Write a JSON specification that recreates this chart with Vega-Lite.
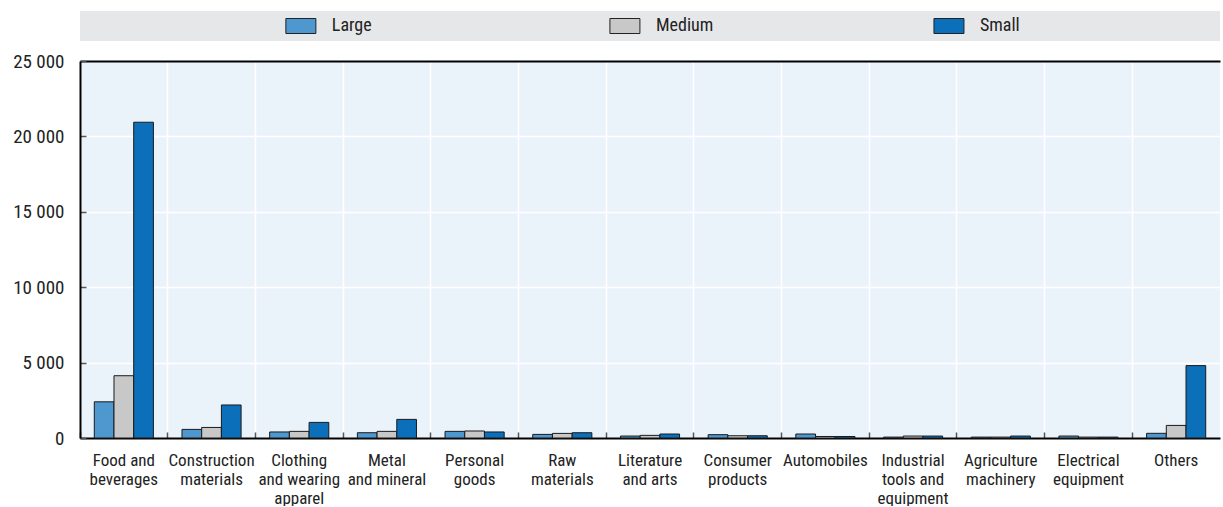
{
  "$schema": "https://vega.github.io/schema/vega-lite/v6.json",
  "padding": {"left": 12, "top": 11, "right": 2, "bottom": 0},
  "background": "white",
  "bounds": "flush",
  "spacing": 20,
  "config": {
    "font": "Liberation Sans Narrow, Roboto Condensed, Arial Narrow, sans-serif",
    "text": {"font": "Liberation Sans Narrow, Roboto Condensed, Arial Narrow, sans-serif"}
  },
  "datasets": {
    "bars": [
      {"Sector": "Food and beverages", "Size": "Large", "Value": 2400},
      {"Sector": "Food and beverages", "Size": "Medium", "Value": 4130},
      {"Sector": "Food and beverages", "Size": "Small", "Value": 20940},
      {"Sector": "Construction materials", "Size": "Large", "Value": 570},
      {"Sector": "Construction materials", "Size": "Medium", "Value": 700},
      {"Sector": "Construction materials", "Size": "Small", "Value": 2190},
      {"Sector": "Clothing and wearing apparel", "Size": "Large", "Value": 400},
      {"Sector": "Clothing and wearing apparel", "Size": "Medium", "Value": 440},
      {"Sector": "Clothing and wearing apparel", "Size": "Small", "Value": 1035},
      {"Sector": "Metal and mineral", "Size": "Large", "Value": 350},
      {"Sector": "Metal and mineral", "Size": "Medium", "Value": 440},
      {"Sector": "Metal and mineral", "Size": "Small", "Value": 1235},
      {"Sector": "Personal goods", "Size": "Large", "Value": 440},
      {"Sector": "Personal goods", "Size": "Medium", "Value": 465},
      {"Sector": "Personal goods", "Size": "Small", "Value": 400},
      {"Sector": "Raw materials", "Size": "Large", "Value": 240},
      {"Sector": "Raw materials", "Size": "Medium", "Value": 305},
      {"Sector": "Raw materials", "Size": "Small", "Value": 350},
      {"Sector": "Literature and arts", "Size": "Large", "Value": 130},
      {"Sector": "Literature and arts", "Size": "Medium", "Value": 175},
      {"Sector": "Literature and arts", "Size": "Small", "Value": 265},
      {"Sector": "Consumer products", "Size": "Large", "Value": 220},
      {"Sector": "Consumer products", "Size": "Medium", "Value": 150},
      {"Sector": "Consumer products", "Size": "Small", "Value": 150},
      {"Sector": "Automobiles", "Size": "Large", "Value": 265},
      {"Sector": "Automobiles", "Size": "Medium", "Value": 100},
      {"Sector": "Automobiles", "Size": "Small", "Value": 100},
      {"Sector": "Industrial tools and equipment", "Size": "Large", "Value": 60},
      {"Sector": "Industrial tools and equipment", "Size": "Medium", "Value": 130},
      {"Sector": "Industrial tools and equipment", "Size": "Small", "Value": 130},
      {"Sector": "Agriculture machinery", "Size": "Large", "Value": 60},
      {"Sector": "Agriculture machinery", "Size": "Medium", "Value": 60},
      {"Sector": "Agriculture machinery", "Size": "Small", "Value": 130},
      {"Sector": "Electrical equipment", "Size": "Large", "Value": 130},
      {"Sector": "Electrical equipment", "Size": "Medium", "Value": 60},
      {"Sector": "Electrical equipment", "Size": "Small", "Value": 60},
      {"Sector": "Others", "Size": "Large", "Value": 310},
      {"Sector": "Others", "Size": "Medium", "Value": 835},
      {"Sector": "Others", "Size": "Small", "Value": 4800}
    ],
    "sizes": [
      {"Size": "Large"},
      {"Size": "Medium"},
      {"Size": "Small"}
    ]
  },
  "resolve": {"scale": {"x": "independent", "color": "shared"}},
  "vconcat": [
    {
      "width": 1140,
      "height": 30,
      "view": {"fill": "#e6e7e9", "stroke": null},
      "data": {"name": "sizes"},
      "layer": [
        {
          "mark": {"type": "point", "shape": "M-1,-0.5H1V0.5H-1Z", "size": 900, "filled": true, "opacity": 1, "stroke": "#222222", "strokeWidth": 1},
          "encoding": {
            "x": {"field": "Size", "type": "nominal", "sort": ["Large", "Medium", "Small"], "scale": {"type": "point", "padding": 0.759, "align": 0.449}, "axis": null},
            "color": {"field": "Size", "type": "nominal", "scale": {"domain": ["Large", "Medium", "Small"], "range": ["#4e97cf", "#c8c8c8", "#0c6fba"]}, "legend": null}
          }
        },
        {
          "mark": {"type": "text", "align": "left", "baseline": "middle", "dx": 31, "fontSize": 18, "color": "#222222"},
          "encoding": {
            "x": {"field": "Size", "type": "nominal", "sort": ["Large", "Medium", "Small"], "scale": {"type": "point", "padding": 0.759, "align": 0.449}, "axis": null},
            "text": {"field": "Size"}
          }
        }
      ]
    },
    {
      "width": 1140,
      "height": 377,
      "view": {"fill": "#ebf3fa", "stroke": null},
      "data": {"name": "bars"},
      "mark": {"type": "bar", "stroke": "#1a1a1a", "strokeWidth": 1},
      "encoding": {
        "x": {
          "field": "Sector", "type": "nominal", "sort": null,
          "scale": {"paddingInner": 0, "paddingOuter": 0},
          "axis": {
            "title": null, "labelAngle": 0, "bandPosition": 0,
            "grid": true, "gridColor": "white", "gridWidth": 1.5,
            "ticks": true, "tickSize": -6, "tickColor": "#555555", "tickWidth": 1.5,
            "domainColor": "black", "domainWidth": 2,
            "labelFontSize": 17, "labelLineHeight": 19, "labelColor": "#222222", "labelPadding": 20,
            "labelBaseline": "top",
            "labelExpr": "{'Food and beverages':['Food and','beverages'],'Construction materials':['Construction','materials'],'Clothing and wearing apparel':['Clothing','and wearing','apparel'],'Metal and mineral':['Metal','and mineral'],'Personal goods':['Personal','goods'],'Raw materials':['Raw','materials'],'Literature and arts':['Literature','and arts'],'Consumer products':['Consumer','products'],'Automobiles':'Automobiles','Industrial tools and equipment':['Industrial','tools and','equipment'],'Agriculture machinery':['Agriculture','machinery'],'Electrical equipment':['Electrical','equipment'],'Others':'Others'}[datum.label]"
          }
        },
        "xOffset": {"field": "Size", "type": "nominal", "sort": ["Large", "Medium", "Small"], "scale": {"paddingOuter": 0.725, "paddingInner": 0}},
        "y": {
          "field": "Value", "type": "quantitative",
          "scale": {"domain": [0, 25000], "nice": false},
          "axis": {
            "title": null, "values": [0, 5000, 10000, 15000, 20000, 25000],
            "grid": true,
            "gridColor": {"condition": {"test": "datum.value >= 25000", "value": "black"}, "value": "white"},
            "gridWidth": {"condition": {"test": "datum.value >= 25000", "value": 2}, "value": 1.5},
            "ticks": true, "tickSize": -6, "tickColor": "#555555", "tickWidth": 1.5,
            "domainColor": "black", "domainWidth": 2,
            "labelFontSize": 19, "labelColor": "#222222", "labelPadding": 22,
            "labelExpr": "replace(format(datum.value, ','), ',', ' ')"
          }
        },
        "color": {"field": "Size", "type": "nominal", "scale": {"domain": ["Large", "Medium", "Small"], "range": ["#4e97cf", "#c8c8c8", "#0c6fba"]}, "legend": null}
      }
    }
  ]
}
